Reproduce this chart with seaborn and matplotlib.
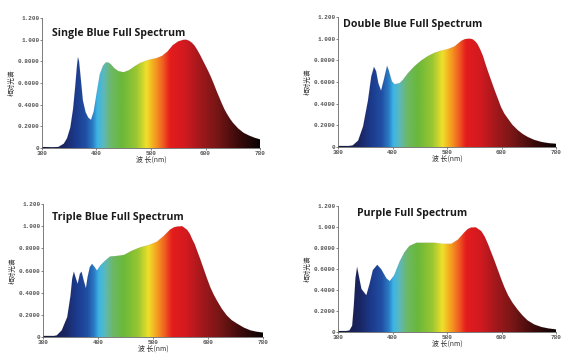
import numpy as np
import pandas as pd
import matplotlib
matplotlib.use("Agg")
import matplotlib.pyplot as plt
import seaborn as sns
from matplotlib.colors import LinearSegmentedColormap

# ------------------------------------------------------------
# Data (relative intensity vs wavelength)
# ------------------------------------------------------------
titles = ["Single Blue Full Spectrum", "Double Blue Full Spectrum",
          "Triple Blue Full Spectrum", "Purple Full Spectrum"]

single_wl = [380, 400, 410, 420, 426, 432, 437, 441, 444, 446, 448, 451, 455, 460, 465,
             470, 475, 480, 486, 492, 497, 502, 507, 512, 520, 530, 540, 550, 560, 570,
             580, 590, 600, 610, 620, 630, 640, 645, 650, 655, 660, 665, 670, 675, 680,
             685, 690, 695, 700, 705, 710, 715, 720, 725, 730, 740, 750, 760, 770, 780]
single_val = [0.01, 0.008, 0.01, 0.04, 0.09, 0.19, 0.36, 0.57, 0.75, 0.84, 0.80, 0.65, 0.44,
              0.33, 0.28, 0.26, 0.34, 0.50, 0.68, 0.76, 0.79, 0.79, 0.77, 0.74, 0.71, 0.70,
              0.72, 0.755, 0.785, 0.805, 0.82, 0.83, 0.85, 0.89, 0.95, 0.985, 1.0, 1.0, 0.99,
              0.972, 0.945, 0.905, 0.86, 0.81, 0.76, 0.71, 0.655, 0.595, 0.53, 0.47, 0.41,
              0.355, 0.31, 0.27, 0.235, 0.18, 0.14, 0.115, 0.095, 0.08]

double_wl = [380, 400, 407, 417, 426, 435, 441, 446, 450, 454, 459, 464, 470, 473, 479,
             484, 493, 499, 508, 520, 533, 545, 557, 569, 582, 594, 606, 612, 618, 623,
             627, 632, 636, 641, 646, 650, 655, 661, 667, 673, 679, 685, 692, 700, 710,
             719, 728, 740, 753, 766, 780]
double_val = [0.01, 0.01, 0.015, 0.06, 0.19, 0.43, 0.65, 0.74, 0.70, 0.59, 0.52, 0.62, 0.75,
              0.71, 0.605, 0.58, 0.59, 0.62, 0.68, 0.745, 0.80, 0.84, 0.87, 0.89, 0.905, 0.93,
              0.98, 0.995, 1.0, 1.0, 0.995, 0.975, 0.95, 0.9, 0.84, 0.775, 0.70, 0.615, 0.53,
              0.45, 0.37, 0.31, 0.26, 0.205, 0.155, 0.12, 0.093, 0.066, 0.047, 0.036, 0.03]

triple_wl = [380, 400, 405, 414, 424, 430, 433, 436, 440, 443, 447, 450, 454, 458, 461,
             465, 469, 474, 478, 484, 493, 502, 511, 527, 542, 557, 572, 587, 599, 611,
             618, 624, 633, 642, 647, 651, 656, 660, 666, 672, 678, 684, 690, 696, 705,
             714, 723, 733, 745, 757, 768, 780]
triple_val = [0.01, 0.01, 0.015, 0.06, 0.18, 0.375, 0.525, 0.59, 0.525, 0.48, 0.57, 0.59,
              0.51, 0.44, 0.54, 0.63, 0.66, 0.63, 0.60, 0.645, 0.69, 0.727, 0.73, 0.74,
              0.78, 0.81, 0.83, 0.86, 0.91, 0.97, 0.99, 0.997, 1.0, 0.967, 0.93, 0.885,
              0.835, 0.78, 0.70, 0.615, 0.53, 0.45, 0.385, 0.33, 0.255, 0.195, 0.152, 0.12,
              0.085, 0.06, 0.048, 0.04]

purple_wl = [380, 395, 401, 406, 409, 412, 415, 418, 423, 432, 438, 444, 452, 459, 469,
             475, 483, 493, 502, 511, 524, 539, 557, 572, 588, 600, 612, 618, 624, 633,
             643, 649, 655, 661, 667, 673, 679, 685, 692, 700, 710, 719, 728, 740, 753,
             766, 780]
purple_val = [0.01, 0.01, 0.015, 0.06, 0.25, 0.51, 0.62, 0.54, 0.41, 0.35, 0.46, 0.59, 0.64,
              0.60, 0.51, 0.485, 0.54, 0.67, 0.76, 0.82, 0.85, 0.85, 0.85, 0.84, 0.84, 0.88,
              0.95, 0.98, 0.995, 0.997, 0.96, 0.91, 0.84, 0.76, 0.68, 0.595, 0.51, 0.43,
              0.35, 0.28, 0.21, 0.155, 0.11, 0.072, 0.048, 0.034, 0.025]

series = [(single_wl, single_val), (double_wl, double_val),
          (triple_wl, triple_val), (purple_wl, purple_val)]

xticks = [380, 480, 580, 680, 780]
yticks = [0, 0.2, 0.4, 0.6, 0.8, 1.0, 1.2]
ytick_labels = ["0", "0.2000", "0.4000", "0.6000", "0.8000", "1.000", "1.200"]

# spectrum colours along the wavelength axis
spec_stops = [(380, "#14183c"), (420, "#1a2664"), (440, "#1c3a8c"), (460, "#2050a4"),
              (472, "#2a7cc4"), (481, "#3cb6e6"), (492, "#5cb8bc"), (505, "#6cb86a"),
              (525, "#6ab83a"), (552, "#98c632"), (571, "#f0e02a"), (586, "#f5a020"),
              (600, "#f06222"), (614, "#e41c1c"), (640, "#d21a20"), (670, "#a0181c"),
              (700, "#781616"), (740, "#3a0a0a"), (780, "#080404")]
cmap = LinearSegmentedColormap.from_list(
    "spec", [((w - 380) / 400, c) for w, c in spec_stops])

# ------------------------------------------------------------
# Figure
# ------------------------------------------------------------
sns.set_theme(style="ticks")
plt.rcParams['font.family'] = ['Noto Sans CJK SC', 'DejaVu Sans']

fig = plt.figure(figsize=(5.76, 3.57), dpi=100)
boxes = [(0.0729, 0.5854, 0.3785, 0.364), (0.5868, 0.5882, 0.3785, 0.364),
         (0.0747, 0.056, 0.382, 0.3725), (0.5868, 0.070, 0.3785, 0.353)]
title_pos = [(0.046, 0.885), (0.023, 0.946), (0.04, 0.895), (0.087, 0.944)]

grad = np.linspace(380, 780, 800).reshape(1, -1)

for (wl, val), box, title, tpos in zip(series, boxes, titles, title_pos):
    ax = fig.add_axes(box)
    df = pd.DataFrame({"wl": wl, "val": val})
    poly = ax.fill_between(df["wl"], 0, df["val"], color="none", lw=0)
    img = ax.imshow(grad, cmap=cmap, extent=[380, 780, 0, 1.2], aspect="auto",
                    origin="lower", interpolation="bilinear")
    img.set_clip_path(poly.get_paths()[0], transform=ax.transData)
    sns.lineplot(data=df, x="wl", y="val", ax=ax, lw=0.4, color="#40202a", alpha=0.1)

    ax.set_xlim(380, 780)
    ax.set_ylim(0, 1.2)
    ax.set_xticks(xticks)
    ax.set_xticklabels([str(t) for t in xticks], family="Liberation Mono", fontsize=4.3,
                       fontweight="bold", color="#333333")
    ax.set_yticks(yticks)
    ax.set_yticklabels(ytick_labels, family="Liberation Mono", fontsize=4.3,
                       fontweight="bold", color="#333333")
    ax.tick_params(length=1.5, width=0.5, pad=0.5, colors="#555555")
    for s in ["left", "bottom"]:
        ax.spines[s].set_linewidth(0.6)
        ax.spines[s].set_color("#666666")
    sns.despine(ax=ax)
    ax.set_xlabel("波 长(nm)", fontsize=5, labelpad=0, color="#333333")
    ax.set_ylabel("相对光谱", fontsize=4.8, labelpad=1, color="#333333")
    ax.text(tpos[0], tpos[1], title, transform=ax.transAxes, fontsize=7.6,
            fontweight="bold", family="Open Sans", color="#1a1a1a", va="center")

fig.savefig("out.png", dpi=100)
